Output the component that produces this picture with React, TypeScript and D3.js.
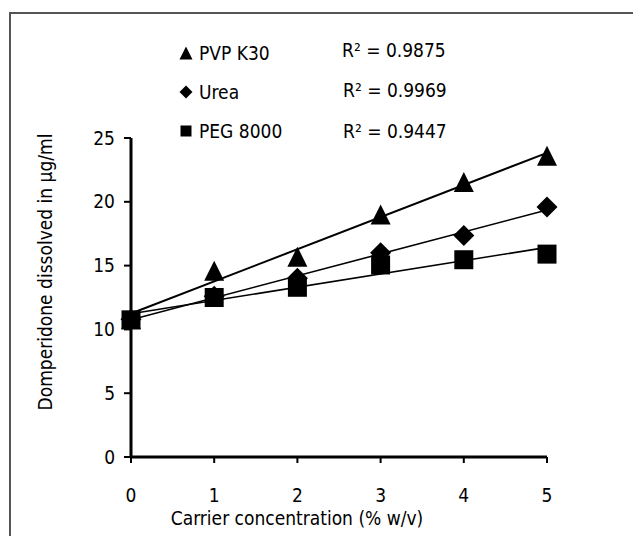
import React from "react";
import * as d3 from "d3";

const concentrations = [0, 1, 2, 3, 4, 5];
const pvpK30 = [10.8, 14.6, 15.7, 19.0, 21.55, 23.6];
const urea = [10.8, 12.6, 14.0, 16.0, 17.35, 19.6];
const peg8000 = [10.75, 12.5, 13.3, 15.05, 15.46, 15.9];
const seriesNames = ["PVP K30", "Urea", "PEG 8000"];
const r2Labels = ["R\u00b2 = 0.9875", "R\u00b2 = 0.9969", "R\u00b2 = 0.9447"];
const yTicks = [0, 5, 10, 15, 20, 25];
const xTicks = [0, 1, 2, 3, 4, 5];

const FONT = "'Liberation Sans Narrow', 'DejaVu Sans Condensed', 'Liberation Sans', Arial, sans-serif";

function markerPath(kind: string, s: number) {
  const h = s / 2;
  if (kind === "triangle") return `M0,${-h}L${h},${h}L${-h},${h}Z`;
  if (kind === "diamond") return `M0,${-h}L${h},0L0,${h}L${-h},0Z`;
  return `M${-h},${-h}H${h}V${h}H${-h}Z`;
}

function fit(xs: number[], ys: number[]) {
  const mx = d3.mean(xs)!;
  const my = d3.mean(ys)!;
  let sxy = 0, sxx = 0;
  xs.forEach((x, i) => { sxy += (x - mx) * (ys[i] - my); sxx += (x - mx) * (x - mx); });
  const b = sxy / sxx;
  return { a: my - b * mx, b };
}

export default function App() {
  const x = d3.scaleLinear().domain([0, 5]).range([131, 547]);
  const y = d3.scaleLinear().domain([0, 25]).range([457, 138]);
  const series = [
    { name: seriesNames[0], values: pvpK30, kind: "triangle", size: 20, lw: 2 },
    { name: seriesNames[1], values: urea, kind: "diamond", size: 21, lw: 1.6 },
    { name: seriesNames[2], values: peg8000, kind: "square", size: 19, lw: 1.6 },
  ];
  const line = d3.line<[number, number]>().x((d) => x(d[0])).y((d) => y(d[1]));
  const legendY = [53, 92, 131];
  const r2Pos = [[342, 50], [343, 90], [343, 131]];

  return (
    <svg width={633} height={536} style={{ position: "absolute", left: 0, top: 0, background: "#fff" }}>
      <rect x={0} y={0} width={633} height={536} fill="#fff" />
      <path d="M10,560V13H640" fill="none" stroke="#555" strokeWidth={2} />

      {/* Y axis */}
      <line x1={x(0)} x2={x(0)} y1={y(25)} y2={y(0)} stroke="#000" strokeWidth={3} />
      {yTicks.map((t) => (
        <g key={"y" + t}>
          <line x1={x(0) - 7} x2={x(0)} y1={y(t)} y2={y(t)} stroke="#000" strokeWidth={2} />
          <text x={115} y={y(t)} dy="0.35em" textAnchor="end" fontFamily={FONT} fontSize={19} fill="#000">{t}</text>
        </g>
      ))}
      {/* X axis */}
      <line x1={x(0)} x2={x(5)} y1={y(0)} y2={y(0)} stroke="#000" strokeWidth={3} />
      {xTicks.map((t) => (
        <g key={"x" + t}>
          <line x1={x(t)} x2={x(t)} y1={y(0)} y2={y(0) + 6} stroke="#000" strokeWidth={2} />
          <text x={x(t)} y={495} dy="0.35em" textAnchor="middle" fontFamily={FONT} fontSize={19} fill="#000">{t}</text>
        </g>
      ))}
      <text x={297} y={518} dy="0.35em" textAnchor="middle" fontFamily={FONT} fontSize={19} fill="#000">Carrier concentration  (% w/v)</text>
      <text transform={`translate(45,272) rotate(-90)`} dy="0.35em" textAnchor="middle" fontFamily={FONT} fontSize={19} fill="#000">Domperidone  dissolved in µg/ml</text>

      {/* Trendlines */}
      {series.map((s) => {
        const f = fit(concentrations, s.values);
        return (
          <path key={"l" + s.name} d={line([[0, f.a], [5, f.a + 5 * f.b]])!} fill="none" stroke="#000" strokeWidth={s.lw} />
        );
      })}
      {/* Markers */}
      {series.map((s) =>
        s.values.map((v, i) => (
          <path key={s.name + i} transform={`translate(${x(concentrations[i])},${y(v)})`} d={markerPath(s.kind, s.size)} fill="#000" />
        ))
      )}

      {/* Legend */}
      {series.map((s, i) => (
        <g key={"lg" + s.name}>
          <path transform={`translate(186,${legendY[i]})`} d={markerPath(s.kind, s.kind === "square" ? 11 : 13)} fill="#000" />
          <text x={199} y={legendY[i]} dy="0.35em" fontFamily={FONT} fontSize={19} fill="#000">{s.name}</text>
        </g>
      ))}
      {r2Labels.map((t, i) => (
        <text key={"r" + i} x={r2Pos[i][0]} y={r2Pos[i][1]} dy="0.35em" fontFamily={FONT} fontSize={19} fill="#000">{t}</text>
      ))}
    </svg>
  );
}
